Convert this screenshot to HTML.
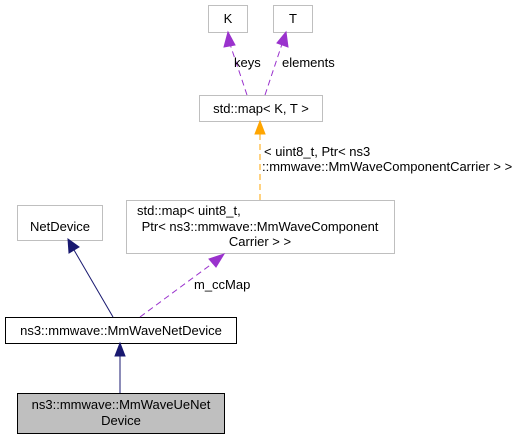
<!DOCTYPE html>
<html><head><meta charset="utf-8"><style>body{margin:0;background:#fff}svg{display:block}text{font-family:"Liberation Sans",Arial,sans-serif;font-size:13px;fill:#000}</style></head>
<body>
<svg width="522" height="440" viewBox="0 0 522 440" xmlns="http://www.w3.org/2000/svg">
<defs>
<marker id="ap" markerWidth="10" markerHeight="10" refX="9" refY="5" orient="auto" markerUnits="userSpaceOnUse" viewBox="0 0 10 10"><path d="M0,0 L10,5 L0,10z" fill="#9a32cd" stroke="#9a32cd"/></marker>
</defs>
<!-- boxes -->
<rect x="208.5" y="5.5" width="39" height="27" fill="#fff" stroke="#bfbfbf"/>
<text x="228" y="23" text-anchor="middle">K</text>
<rect x="273.5" y="5.5" width="39" height="27" fill="#fff" stroke="#bfbfbf"/>
<text x="293" y="23" text-anchor="middle">T</text>
<rect x="199.5" y="95.5" width="123" height="26" fill="#fff" stroke="#bfbfbf"/>
<text x="261" y="113" text-anchor="middle">std::map&lt; K, T &gt;</text>
<rect x="126.5" y="200.5" width="268" height="53" fill="#fff" stroke="#bfbfbf"/>
<text x="137" y="215">std::map&lt; uint8_t,</text>
<text x="260" y="231" text-anchor="middle">Ptr&lt; ns3::mmwave::MmWaveComponent</text>
<text x="260" y="246" text-anchor="middle">Carrier &gt; &gt;</text>
<rect x="17.5" y="205.5" width="85" height="35" fill="#fff" stroke="#bfbfbf"/>
<text x="60" y="231" text-anchor="middle">NetDevice</text>
<rect x="5.5" y="317.5" width="231" height="26" fill="#fff" stroke="#000"/>
<text x="121" y="335" text-anchor="middle">ns3::mmwave::MmWaveNetDevice</text>
<rect x="17.5" y="393.5" width="207" height="40" fill="#bfbfbf" stroke="#000"/>
<text x="121" y="409" text-anchor="middle">ns3::mmwave::MmWaveUeNet</text>
<text x="121" y="425" text-anchor="middle">Device</text>
<!-- edges -->
<line x1="247" y1="95" x2="230" y2="44" stroke="#9a32cd" stroke-dasharray="6,4"/>
<path d="M224,47 L228,32 L235,45z" fill="#9a32cd" stroke="#9a32cd"/>
<text x="234" y="67">keys</text>
<line x1="265" y1="95" x2="282" y2="44" stroke="#9a32cd" stroke-dasharray="6,4"/>
<path d="M277,43 L286,32 L288,47z" fill="#9a32cd" stroke="#9a32cd"/>
<text x="282" y="67">elements</text>
<line x1="260" y1="200" x2="260" y2="134" stroke="#ffa500" stroke-dasharray="6,4"/>
<path d="M255,134 L260,121 L265,134z" fill="#ffa500" stroke="#ffa500"/>
<text x="264" y="156">&lt; uint8_t, Ptr&lt; ns3</text>
<text x="262" y="171">::mmwave::MmWaveComponentCarrier &gt; &gt;</text>
<line x1="140" y1="317" x2="213" y2="263" stroke="#9a32cd" stroke-dasharray="6,4"/>
<path d="M209,259 L224,254 L216,267z" fill="#9a32cd" stroke="#9a32cd"/>
<text x="194" y="289">m_ccMap</text>
<line x1="113" y1="317" x2="74" y2="250" stroke="#191970"/>
<path d="M69,253 L68,239 L79,247z" fill="#191970" stroke="#191970"/>
<line x1="120" y1="393" x2="120" y2="356" stroke="#191970"/>
<path d="M115,356 L120,343 L125,356z" fill="#191970" stroke="#191970"/>
</svg>
</body></html>
